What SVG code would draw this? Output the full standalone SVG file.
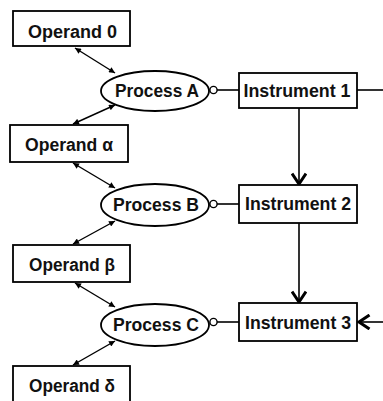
<svg xmlns="http://www.w3.org/2000/svg" width="383" height="401" viewBox="0 0 383 401">
<style>
  .box { fill: #fff; stroke: #000; stroke-width: 1.8; }
  .ell { fill: #fff; stroke: #000; stroke-width: 1.8; }
  .lbl { font-family: "Liberation Sans", Arial, Helvetica, sans-serif; font-weight: bold; font-size: 18px; fill: #111; text-anchor: middle; }
  .dbl { stroke: #000; stroke-width: 1.4; fill: none; marker-start: url(#tri); marker-end: url(#tri); }
  .ln { stroke: #000; stroke-width: 1.6; fill: none; }
  .flow { stroke: #000; stroke-width: 1.6; fill: none; marker-end: url(#vee); }
</style>
<defs>
  <marker id="tri" viewBox="0 0 10 10" refX="10" refY="5" markerWidth="8" markerHeight="6" markerUnits="userSpaceOnUse" orient="auto-start-reverse">
    <path d="M0,0 L10,5 L0,10 z" fill="#000"/>
  </marker>
  <marker id="vee" viewBox="0 0 14 16" refX="12" refY="8" markerWidth="14" markerHeight="16" markerUnits="userSpaceOnUse" orient="auto">
    <path d="M1.5,1 L12,8 L1.5,15" fill="none" stroke="#000" stroke-width="3"/>
  </marker>
</defs>

<g id="connectors">
  <line class="dbl" x1="75" y1="48" x2="115" y2="73"/>
  <line class="dbl" x1="115" y1="105" x2="73" y2="124"/>
  <line class="dbl" x1="73" y1="163" x2="115" y2="188"/>
  <line class="dbl" x1="115" y1="221" x2="73" y2="244"/>
  <line class="dbl" x1="75" y1="283" x2="115" y2="307"/>
  <line class="dbl" x1="115" y1="341" x2="73" y2="365"/>

  <line class="ln" x1="217" y1="90" x2="239" y2="90"/>
  <circle cx="213.5" cy="90" r="3.6" fill="#fff" stroke="#000" stroke-width="1.4"/>
  <line class="ln" x1="217" y1="204" x2="239" y2="204"/>
  <circle cx="213.5" cy="204" r="3.6" fill="#fff" stroke="#000" stroke-width="1.4"/>
  <line class="ln" x1="217" y1="322" x2="239" y2="322"/>
  <circle cx="213.5" cy="322" r="3.6" fill="#fff" stroke="#000" stroke-width="1.4"/>

  <line class="ln" x1="357" y1="90" x2="383" y2="90"/>
  <line class="flow" x1="299" y1="108" x2="299" y2="184"/>
  <line class="flow" x1="299" y1="223" x2="299" y2="302"/>
  <line class="flow" x1="383" y1="322" x2="359" y2="322"/>
</g>

<g id="operand0">
  <rect class="box" x="13" y="11" width="117" height="35"/>
  <text class="lbl" x="72.5" y="37.5" textLength="89" lengthAdjust="spacingAndGlyphs">Operand 0</text>
</g>
<g id="operandAlpha">
  <rect class="box" x="10" y="125" width="118" height="37"/>
  <text class="lbl" x="69" y="151" textLength="88" lengthAdjust="spacingAndGlyphs">Operand α</text>
</g>
<g id="operandBeta">
  <rect class="box" x="13" y="245" width="117" height="37"/>
  <text class="lbl" x="72" y="271" textLength="86" lengthAdjust="spacingAndGlyphs">Operand β</text>
</g>
<g id="operandDelta">
  <rect class="box" x="13" y="366" width="117" height="40"/>
  <text class="lbl" x="72" y="392" textLength="86" lengthAdjust="spacingAndGlyphs">Operand δ</text>
</g>

<g id="processA">
  <ellipse class="ell" cx="155" cy="91" rx="54" ry="20"/>
  <text class="lbl" x="157" y="97" textLength="84" lengthAdjust="spacingAndGlyphs">Process A</text>
</g>
<g id="processB">
  <ellipse class="ell" cx="155" cy="205" rx="54" ry="21"/>
  <text class="lbl" x="156" y="211" textLength="86" lengthAdjust="spacingAndGlyphs">Process B</text>
</g>
<g id="processC">
  <ellipse class="ell" cx="155" cy="325" rx="54" ry="21"/>
  <text class="lbl" x="156" y="331" textLength="86" lengthAdjust="spacingAndGlyphs">Process C</text>
</g>

<g id="instrument1">
  <rect class="box" x="239" y="73" width="118" height="35"/>
  <text class="lbl" x="297" y="97" textLength="107" lengthAdjust="spacingAndGlyphs">Instrument 1</text>
</g>
<g id="instrument2">
  <rect class="box" x="239" y="185" width="118" height="38"/>
  <text class="lbl" x="298" y="210" textLength="106" lengthAdjust="spacingAndGlyphs">Instrument 2</text>
</g>
<g id="instrument3">
  <rect class="box" x="239" y="303" width="118" height="38"/>
  <text class="lbl" x="298" y="329" textLength="106" lengthAdjust="spacingAndGlyphs">Instrument 3</text>
</g>
</svg>
